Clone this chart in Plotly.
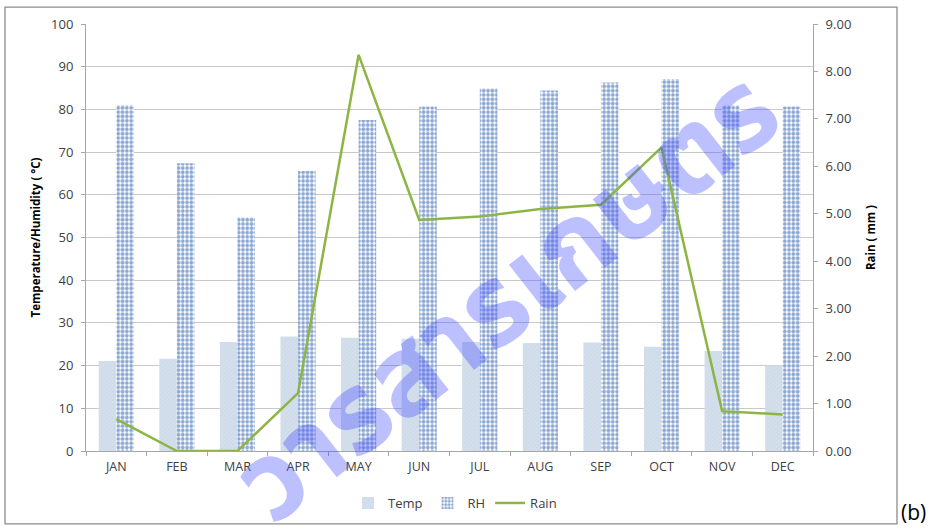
import plotly.graph_objects as go

months = ["JAN", "FEB", "MAR", "APR", "MAY", "JUN", "JUL", "AUG", "SEP", "OCT", "NOV", "DEC"]
temp = [21.1, 21.6, 25.5, 26.8, 26.5, 26.3, 25.5, 25.3, 25.4, 24.4, 23.4, 20.0]
rh = [81.0, 67.4, 54.7, 65.6, 77.5, 80.7, 84.9, 84.4, 86.3, 87.1, 80.9, 80.7]
rain = [0.67, 0.0, 0.0, 1.22, 8.35, 4.87, 4.94, 5.10, 5.19, 6.40, 0.84, 0.77]

W, H = 933, 529
L, R, T, B = 86, 813, 24, 452
FONT = "Open Sans"
TXT = "#404040"
GRID = "#c9c9c9"

fig = go.Figure()
fig.add_trace(go.Bar(
    x=months, y=temp, name="Temp",
    marker=dict(color="#d4dfec", line=dict(width=0),
                pattern=dict(shape="/", fgcolor="#c3d1e3", size=3, solidity=0.3)),
))
fig.add_trace(go.Bar(
    x=months, y=rh, name="RH",
    marker=dict(color="white", line=dict(width=0),
                pattern=dict(shape=".", fgcolor="#1a4fa3", bgcolor="white", size=4.3, solidity=0.6)),
))
fig.add_trace(go.Scatter(
    x=months, y=rain, name="Rain", yaxis="y2", mode="lines",
    line=dict(color="#8db543", width=2.5),
))

def px_x(p):
    return (p - L) / (R - L)

def px_y(p):
    return (B - p) / (B - T)

fig.update_layout(
    width=W, height=H,
    margin=dict(l=L, r=W - R, t=T, b=H - B),
    paper_bgcolor="white", plot_bgcolor="white",
    font=dict(family=FONT, size=13, color=TXT),
    barmode="group", bargap=0.42, bargroupgap=0,
    showlegend=True,
    legend=dict(orientation="h", x=px_x(455), xanchor="center", y=px_y(503), yanchor="middle",
                font=dict(size=13, color=TXT), itemwidth=30, traceorder="normal",
                bgcolor="rgba(0,0,0,0)"),
    xaxis=dict(
        type="category", showline=True, linecolor="#a6a6a6", linewidth=1,
        ticks="outside", tickson="boundaries", ticklen=4, tickcolor="#a6a6a6",
        showgrid=False, tickfont=dict(size=12.5, color=TXT), ticklabelstandoff=4,
        automargin=False,
    ),
    yaxis=dict(
        range=[0, 100], dtick=10, showgrid=True, gridcolor=GRID, gridwidth=1,
        showline=True, linecolor="#a6a6a6", ticks="outside", ticklen=4, tickcolor="#a6a6a6",
        tickfont=dict(size=13, color=TXT), ticklabelstandoff=5, zeroline=False,
        title=dict(text="<b>Temperature/Humidity ( °C)</b>", font=dict(size=11.5, color="black"), standoff=8),
        automargin=False,
    ),
    yaxis2=dict(
        range=[0, 9], dtick=1, tickformat=".2f", overlaying="y", side="right",
        showgrid=False, showline=True, linecolor="#a6a6a6", ticks="outside", ticklen=4,
        tickcolor="#a6a6a6", tickfont=dict(size=13, color=TXT), ticklabelstandoff=5,
        zeroline=False,
        title=dict(text="<b>Rain ( mm )</b>", font=dict(size=11.5, color="black"), standoff=16),
        automargin=False,
    ),
    shapes=[dict(type="rect", xref="paper", yref="paper",
                 x0=px_x(5), x1=px_x(897), y0=px_y(525), y1=px_y(7),
                 line=dict(color="#8c8c8c", width=1.3), layer="below")],
    annotations=[
        dict(text="(b)", xref="paper", yref="paper", x=px_x(913), y=px_y(513),
             xanchor="center", yanchor="middle", showarrow=False,
             font=dict(size=21, color="black", family=FONT)),
        dict(text="<b>วารสารเกษตร</b>", xref="paper", yref="paper", x=px_x(508), y=px_y(300),
             xanchor="center", yanchor="middle", showarrow=False, textangle=-38,
             font=dict(size=112, color="rgba(70,80,255,0.36)",
                       family="Noto Sans Thai, Noto Sans Thai UI, Loma, Noto Sans"),
             ),
    ],
)

fig.write_html("out.html", config={"displayModeBar": False},
               post_script="document.body.style.margin='0px';document.body.style.overflow='hidden';")
